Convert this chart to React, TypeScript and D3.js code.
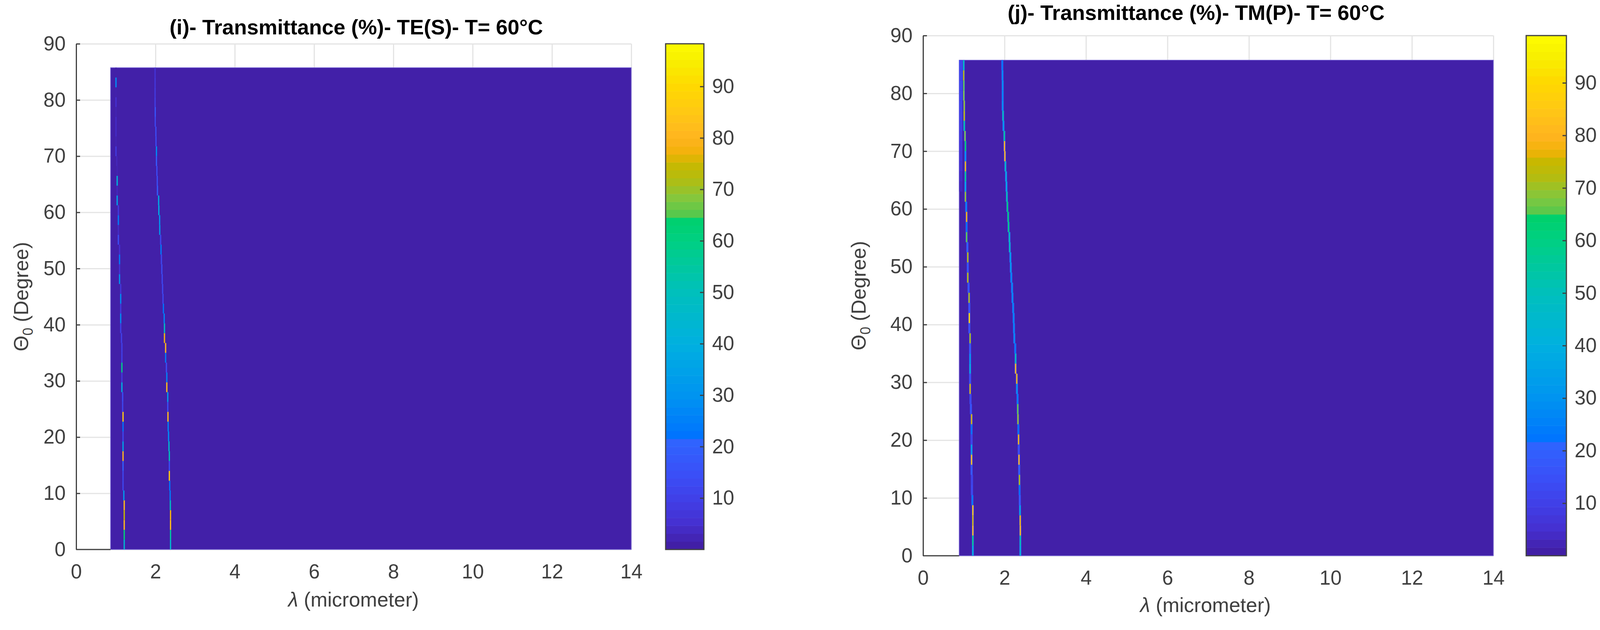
import React, { useRef, useEffect } from "react";
import * as d3 from "d3";

// theta grid of the map, bottom edge of each row (degree)
const thetaRows = [
  0, 1.75, 3.5, 5.25, 7, 8.75, 10.5, 12.25, 14, 15.75, 17.5, 19.25, 21, 22.75, 24.5, 26.25, 28,
  29.75, 31.5, 33.25, 35, 36.75, 38.5, 40.25, 42, 43.75, 45.5, 47.25, 49, 50.75, 52.5, 54.25, 56,
  57.75, 59.5, 61.25, 63, 64.75, 66.5, 68.25, 70, 71.75, 73.5, 75.25, 77, 78.75, 80.5, 82.25, 84,
];
const thetaTop = 85.75;
const lambdaStart = [0.867, 0.886];
const lambdaEnd = 14;
const backgroundValue = 1;

// TE(S): first resonance
const teLambdaA = [
  1.212, 1.212, 1.212, 1.212, 1.212, 1.202, 1.182, 1.182, 1.182, 1.182, 1.182, 1.182, 1.182, 1.182,
  1.172, 1.172, 1.153, 1.153, 1.153, 1.153, 1.153, 1.143, 1.123, 1.123, 1.123, 1.123, 1.123, 1.094,
  1.094, 1.094, 1.094, 1.064, 1.064, 1.064, 1.064, 1.034, 1.034, 1.034, 1.034, 1.024, 1.004, 1.004,
  1.004, 1.004, 1.004, 1.004, 1.004, 1.004, 1.004,
];
const teValueA = [
  45, 62, 82, 75, 82, 32, 12, 12, 20, 80, 35, 12, 22, 85, 12, 14, 40, 8, 58, 10, 10, 10, 10, 28, 8,
  28, 7, 30, 6, 24, 5, 14, 4, 24, 8, 35, 3, 42, 2, 3, 8, 2, 4, 4, 2, 5, 1.5, 28, 1,
];
// TE(S): second resonance
const teLambdaB = [
  2.38, 2.38, 2.38, 2.38, 2.375, 2.37, 2.36, 2.35, 2.35, 2.35, 2.34, 2.33, 2.32, 2.315, 2.31, 2.31,
  2.286, 2.286, 2.276, 2.256, 2.256, 2.227, 2.227, 2.22, 2.2, 2.19, 2.18, 2.17, 2.16, 2.15, 2.14,
  2.13, 2.108, 2.105, 2.085, 2.08, 2.05, 2.045, 2.036, 2.025, 2.025, 2.013, 2.01, 1.994, 1.994, 1.99,
  1.99, 1.99, 1.99,
];
const teValueB = [
  45, 55, 82, 78, 48, 24, 22, 85, 14, 50, 45, 28, 26, 82, 14, 33, 82, 26, 14, 24, 80, 78, 48, 26, 22,
  12, 12, 12, 13, 12, 24, 12, 32, 30, 38, 38, 18, 14, 13, 18, 28, 13, 13, 12, 16, 9, 8, 7, 6,
];

// TM(P): first resonance
const tmLambdaA = [
  1.223, 1.223, 1.223, 1.223, 1.223, 1.21, 1.2, 1.2, 1.191, 1.191, 1.191, 1.191, 1.191, 1.191, 1.175,
  1.165, 1.155, 1.155, 1.155, 1.155, 1.155, 1.155, 1.136, 1.136, 1.136, 1.13, 1.117, 1.098, 1.098,
  1.098, 1.088, 1.069, 1.069, 1.069, 1.059, 1.04, 1.04, 1.04, 1.04, 1.04, 1.04, 1.03, 1.011, 1.011,
  1.011, 1.001, 1.001, 0.998, 0.998,
];
const tmValueA = [
  42, 58, 82, 76, 84, 24, 12, 10, 18, 83, 36, 10, 23, 76, 16, 12, 76, 14, 42, 33, 18, 72, 14, 88, 15,
  72, 16, 74, 16, 74, 20, 66, 22, 78, 26, 70, 38, 58, 78, 30, 64, 68, 54, 74, 70, 68, 66, 72, 50,
];
// TM(P): second resonance
const tmLambdaB = [
  2.388, 2.388, 2.388, 2.385, 2.38, 2.375, 2.37, 2.366, 2.36, 2.355, 2.35, 2.345, 2.34, 2.33, 2.325,
  2.32, 2.305, 2.301, 2.272, 2.272, 2.263, 2.24, 2.232, 2.224, 2.212, 2.195, 2.185, 2.166, 2.154,
  2.144, 2.128, 2.12, 2.099, 2.089, 2.07, 2.058, 2.048, 2.038, 2.022, 2.009, 2.0, 1.995, 1.974, 1.964,
  1.955, 1.955, 1.955, 1.95, 1.945,
];
const tmValueB = [
  42, 52, 80, 78, 38, 18, 22, 72, 20, 80, 14, 78, 22, 70, 66, 25, 30, 78, 80, 50, 24, 28, 27, 27, 27,
  28, 28, 28, 33, 34, 50, 50, 60, 62, 62, 52, 38, 40, 48, 80, 80, 55, 34, 50, 30, 28, 30, 28, 24,
];
// TM(P): faint band along the short wavelength edge, top rows only
const tmEdgeRows = [36, 37, 38, 39, 40, 41, 42, 43, 44, 45, 46, 47, 48];
const tmEdgeValue = [3, 4, 5, 6, 7, 8, 9, 10, 11, 11, 12, 12, 12];

const xTicks = [0, 2, 4, 6, 8, 10, 12, 14];
const yTicks = [0, 10, 20, 30, 40, 50, 60, 70, 80, 90];
const barTicks = [10, 20, 30, 40, 50, 60, 70, 80, 90];
const barLevels = 64;

const colorStops: [number, string][] = [
  [0, "#3e1c9e"],
  [1, "#4220a8"],
  [5, "#4530d0"],
  [10, "#4040e8"],
  [15, "#3a50f8"],
  [21.7, "#2e66ff"],
  [21.7, "#0072ff"],
  [30, "#0094f0"],
  [40, "#00b0e0"],
  [50, "#00c0bc"],
  [60, "#00d082"],
  [64.5, "#00d06c"],
  [64.5, "#4cc850"],
  [68, "#80c840"],
  [72, "#b4bc10"],
  [75, "#c8b800"],
  [77, "#f2b208"],
  [80, "#ffb420"],
  [85, "#ffc814"],
  [90, "#ffd800"],
  [95, "#f8f000"],
  [100, "#ffff00"],
];

const FONT = "'Liberation Sans', Arial, sans-serif";
const TEXT = "#404040";
const GRID = "#e4e4e4";

const color = d3
  .scaleLinear<string>()
  .domain(colorStops.map((d) => d[0]))
  .range(colorStops.map((d) => d[1]))
  .clamp(true);

interface Panel {
  title: string;
  left: number;
  right: number;
  top: number;
  bottom: number;
  barLeft: number;
  barRight: number;
  barMax: number;
  titleX: number;
  titleY: number;
  yLabelX: number;
  xLabelX: number;
  xLabelY: number;
  lambdaMin: number;
  lambdaA: number[];
  valueA: number[];
  lambdaB: number[];
  valueB: number[];
  halo: boolean;
}

function drawPanel(svg: d3.Selection<SVGSVGElement, unknown, null, undefined>, p: Panel) {
  const x = d3.scaleLinear().domain([0, 14]).range([p.left, p.right]);
  const y = d3.scaleLinear().domain([0, 90]).range([p.bottom, p.top]);
  const g = svg.append("g");

  // grid
  const gridX = g
    .append("g")
    .attr("transform", `translate(0,${p.bottom})`)
    .call(d3.axisBottom(x).tickValues(xTicks).tickSize(-(p.bottom - p.top)).tickFormat(() => ""));
  gridX.select(".domain").remove();
  gridX.selectAll("line").attr("stroke", GRID).attr("stroke-width", 3);
  const gridY = g
    .append("g")
    .attr("transform", `translate(${p.left},0)`)
    .call(d3.axisLeft(y).tickValues(yTicks).tickSize(-(p.right - p.left)).tickFormat(() => ""));
  gridY.select(".domain").remove();
  gridY.selectAll("line").attr("stroke", GRID).attr("stroke-width", 3);

  // map background
  g.append("rect")
    .attr("x", x(p.lambdaMin))
    .attr("y", y(thetaTop))
    .attr("width", x(lambdaEnd) - x(p.lambdaMin))
    .attr("height", y(0) - y(thetaTop))
    .attr("fill", color(backgroundValue))
    .attr("stroke", "#7a68d8")
    .attr("stroke-width", 1.5);

  if (p.halo) {
    g.selectAll(".edge")
      .data(tmEdgeRows)
      .enter()
      .append("rect")
      .attr("x", x(p.lambdaMin))
      .attr("y", (k) => y(thetaRows[k] + 1.75))
      .attr("width", x(0.08) - x(0))
      .attr("height", (k) => y(thetaRows[k]) - y(thetaRows[k] + 1.75))
      .attr("fill", (_, i) => color(tmEdgeValue[i]));
  }

  const drawLine = (lambdas: number[], values: number[]) => {
    const cells = thetaRows.map((theta, i) => ({ theta, lambda: lambdas[i], value: values[i] }));
    if (p.halo) {
      g.append("g")
        .selectAll("rect")
        .data(cells)
        .enter()
        .append("rect")
        .attr("x", (d) => x(d.lambda - 0.026))
        .attr("y", (d) => y(d.theta + 1.75))
        .attr("width", x(0.052) - x(0))
        .attr("height", (d) => y(d.theta) - y(d.theta + 1.75))
        .attr("fill", color(14));
    }
    g.append("g")
      .selectAll("rect")
      .data(cells)
      .enter()
      .append("rect")
      .attr("x", (d) => x(d.lambda - 0.016))
      .attr("y", (d) => y(d.theta + 1.75))
      .attr("width", x(0.032) - x(0))
      .attr("height", (d) => y(d.theta) - y(d.theta + 1.75))
      .attr("fill", (d) => color(d.value));
  };
  drawLine(p.lambdaA, p.valueA);
  drawLine(p.lambdaB, p.valueB);

  // axes
  const axisX = g
    .append("g")
    .attr("transform", `translate(0,${p.bottom})`)
    .call(d3.axisBottom(x).tickValues(xTicks).tickSizeInner(0).tickSizeOuter(0).tickPadding(38));
  axisX.select(".domain").attr("stroke", TEXT).attr("stroke-width", 3).attr("d", `M${p.left},0H${x(p.lambdaMin)}`);
  const axisY = g
    .append("g")
    .attr("transform", `translate(${p.left},0)`)
    .call(d3.axisLeft(y).tickValues(yTicks).tickSizeInner(-10).tickSizeOuter(0).tickPadding(27));
  axisY.select(".domain").attr("stroke", TEXT).attr("stroke-width", 3);
  axisY.selectAll("line").attr("stroke", TEXT).attr("stroke-width", 3);
  axisY.selectAll(".tick").filter((d) => d === 0).select("line").remove();
  g.selectAll("text").attr("font-family", FONT).attr("font-size", 51).attr("fill", TEXT);

  // labels
  g.append("text")
    .attr("x", p.titleX)
    .attr("y", p.titleY)
    .attr("text-anchor", "middle")
    .attr("font-family", FONT)
    .attr("font-weight", "bold")
    .attr("font-size", 54)
    .attr("fill", "#000")
    .text(p.title);

  const xLabel = g
    .append("text")
    .attr("x", p.xLabelX)
    .attr("y", p.xLabelY)
    .attr("text-anchor", "middle")
    .attr("font-family", FONT)
    .attr("font-size", 52)
    .attr("fill", TEXT);
  xLabel.append("tspan").attr("font-style", "italic").text("λ");
  xLabel.append("tspan").text(" (micrometer)");

  const yLabel = g
    .append("text")
    .attr("transform", `translate(${p.yLabelX},${(p.top + p.bottom) / 2}) rotate(-90)`)
    .attr("text-anchor", "middle")
    .attr("font-family", FONT)
    .attr("font-size", 52)
    .attr("fill", TEXT);
  yLabel.append("tspan").text("Θ");
  yLabel.append("tspan").attr("dy", 12).attr("font-size", 36).text("0");
  yLabel.append("tspan").attr("dy", -12).text(" (Degree)");

  // colorbar
  const bar = d3.scaleLinear().domain([0, p.barMax]).range([p.bottom, p.top]);
  const levels = d3.range(barLevels).map((i) => (i * p.barMax) / barLevels);
  g.append("g")
    .selectAll("rect")
    .data(levels)
    .enter()
    .append("rect")
    .attr("x", p.barLeft)
    .attr("y", (d) => bar(d + p.barMax / barLevels))
    .attr("width", p.barRight - p.barLeft)
    .attr("height", (d) => bar(d) - bar(d + p.barMax / barLevels) + 0.5)
    .attr("fill", (d) => color(d + p.barMax / barLevels / 2));
  g.append("rect")
    .attr("x", p.barLeft)
    .attr("y", p.top)
    .attr("width", p.barRight - p.barLeft)
    .attr("height", p.bottom - p.top)
    .attr("fill", "none")
    .attr("stroke", TEXT)
    .attr("stroke-width", 3);
  const axisBar = g
    .append("g")
    .attr("transform", `translate(${p.barRight},0)`)
    .call(d3.axisRight(bar).tickValues(barTicks).tickSizeInner(-10).tickSizeOuter(0).tickPadding(21));
  axisBar.select(".domain").remove();
  axisBar.selectAll("line").attr("stroke", TEXT).attr("stroke-width", 3);
  axisBar.selectAll("text").attr("font-family", FONT).attr("font-size", 51).attr("fill", TEXT);
}

const App: React.FC = () => {
  const svgRef = useRef<SVGSVGElement | null>(null);

  useEffect(() => {
    if (!svgRef.current) return;
    const svg = d3.select(svgRef.current);
    svg.selectAll("*").remove();

    drawPanel(svg, {
      title: "(i)- Transmittance (%)- TE(S)- T= 60°C",
      left: 195,
      right: 1616,
      top: 112,
      bottom: 1406,
      barLeft: 1704,
      barRight: 1802,
      barMax: 98.3,
      titleX: 912,
      titleY: 88,
      yLabelX: 72,
      xLabelX: 905,
      xLabelY: 1552,
      lambdaMin: lambdaStart[0],
      lambdaA: teLambdaA,
      valueA: teValueA,
      lambdaB: teLambdaB,
      valueB: teValueB,
      halo: false,
    });
    drawPanel(svg, {
      title: "(j)- Transmittance (%)- TM(P)- T= 60°C",
      left: 2363,
      right: 3823,
      top: 91,
      bottom: 1422,
      barLeft: 3907,
      barRight: 4010,
      barMax: 99,
      titleX: 3062,
      titleY: 51,
      yLabelX: 2216,
      xLabelX: 3086,
      xLabelY: 1566,
      lambdaMin: lambdaStart[1],
      lambdaA: tmLambdaA,
      valueA: tmValueA,
      lambdaB: tmLambdaB,
      valueB: tmValueB,
      halo: true,
    });
  }, []);

  return (
    <svg
      ref={svgRef}
      width={4111}
      height={1612}
      style={{ position: "absolute", left: 0, top: 0, display: "block", background: "#fff" }}
    />
  );
};

export default App;
